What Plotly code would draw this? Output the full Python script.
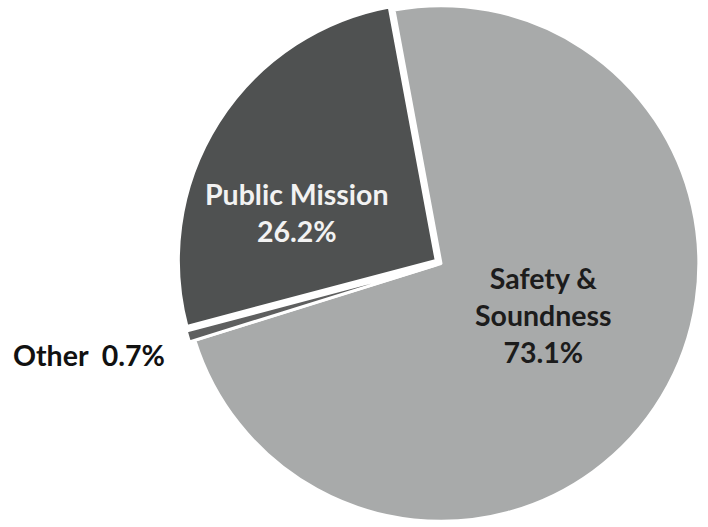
import plotly.graph_objects as go

# Share of spending by category (percent)
labels = ["Safety & Soundness", "Other", "Public Mission"]
values = [73.1, 0.7, 26.2]
slice_colors = ["#a8aaaa", "#5e5f5f", "#4f5151"]
pulls = [0, 0.022, 0.022]

W, H = 708, 527
FONT = "Lato"


def pct_text(i, br=True):
    name = labels[i]
    if name == "Safety & Soundness":
        name = "Safety &<br>Soundness"
    sep = "<br>" if br else "  "
    return f"<b>{name}{sep}{values[i]:.1f}%</b>"


fig = go.Figure(
    go.Pie(
        labels=labels,
        values=values,
        sort=False,
        direction="clockwise",
        rotation=-10.5,
        pull=pulls,
        marker=dict(colors=slice_colors, line=dict(color="white", width=3)),
        textinfo="none",
        hoverinfo="label+percent",
        showlegend=False,
        domain=dict(x=[(441 - 264) / W, (441 + 264) / W], y=[0, 1]),
    )
)

# label placement (pixel positions converted to paper coordinates)
label_spots = {
    0: dict(x=543, y=315, color="#1c1c1c", xanchor="center", br=True),
    2: dict(x=297, y=212, color="#f2f2f2", xanchor="center", br=True),
    1: dict(x=11, y=355, color="#111111", xanchor="left", br=False),
}
for i, s in label_spots.items():
    fig.add_annotation(
        x=s["x"] / W,
        y=1 - s["y"] / H,
        xref="paper",
        yref="paper",
        xanchor=s["xanchor"],
        yanchor="middle",
        align="center",
        text=pct_text(i, s["br"]),
        showarrow=False,
        font=dict(family=FONT, size=28.5, color=s["color"]),
    )

fig.update_layout(
    width=W,
    height=H,
    margin=dict(l=0, r=0, t=0, b=0),
    paper_bgcolor="white",
    plot_bgcolor="white",
)

fig.write_html("out.html")
